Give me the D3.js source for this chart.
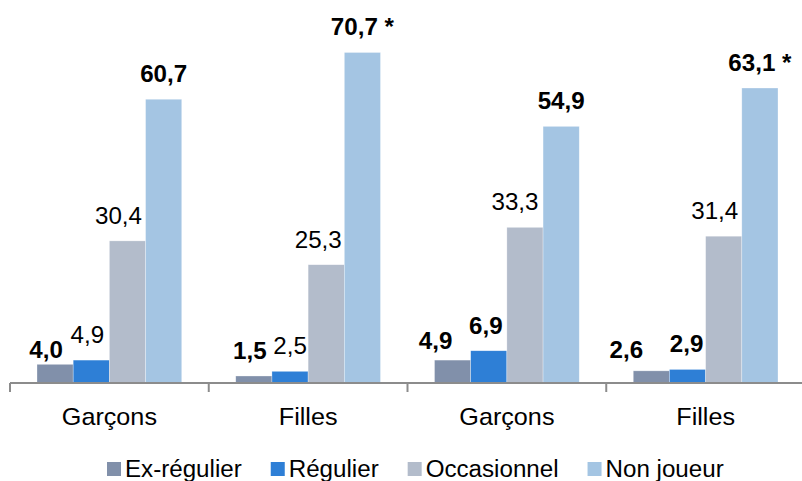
<!DOCTYPE html>
<html>
<head>
<meta charset="utf-8">
<script src="https://cdn.jsdelivr.net/npm/d3@7"></script>
<style>
  html, body { margin: 0; padding: 0; background: #fff; }
  svg { display: block; }
  text { font-family: "Liberation Sans", Arial, sans-serif; fill: #000; }
</style>
</head>
<body>
<svg id="chart" width="802" height="481"></svg>
<script>
// ---- data ----
const categories = ["Garçons", "Filles", "Garçons", "Filles"];
const seriesNames = ["Ex-régulier", "Régulier", "Occasionnel", "Non joueur"];
const exRegulier  = [4.0, 1.5, 4.9, 2.6];
const regulier    = [4.9, 2.5, 6.9, 2.9];
const occasionnel = [30.4, 25.3, 33.3, 31.4];
const nonJoueur   = [60.7, 70.7, 54.9, 63.1];
// significant (bold) flags per series
const boldExRegulier  = [true, true, true, true];
const boldRegulier    = [false, false, true, true];
const boldOccasionnel = [false, false, false, false];
const boldNonJoueur   = [true, true, true, true];
const starNonJoueur   = [false, true, false, true];

// ---- layout / style ----
const colors = ["#8190aa", "#2e7fd6", "#b3bccb", "#a4c5e3"];
const values = [exRegulier, regulier, occasionnel, nonJoueur];
const bolds = [boldExRegulier, boldRegulier, boldOccasionnel, boldNonJoueur];
const SX = 1.05; // horizontal stretch of text
const svg = d3.select("#chart");

const x0 = d3.scaleBand().domain(d3.range(categories.length)).range([10, 805]).padding(0);
const groupPad = 27;
const x1 = d3.scaleBand().domain(d3.range(seriesNames.length))
  .range([groupPad, x0.bandwidth() - groupPad]).padding(0);
const y = d3.scaleLinear().domain([0, 80]).range([383, 9]);

// label nudges [dx, dy] per series, per group (manual placement in original)
const nudges = [
  [[-9, 11], [-4, 0], [-17, 6], [-25, 4]],
  [[-4, 0], [0, 0], [-3, 0], [-1, 0]],
  [[-9, 0], [-8, 0], [-10, 0], [-9, 0]],
  [[0, 0], [0, 0], [0, 0], [0, 0]]
];

// bars
const groups = svg.append("g").selectAll("g")
  .data(categories).join("g")
  .attr("transform", (d, i) => `translate(${x0(i)},0)`);

groups.each(function(cat, gi) {
  const g = d3.select(this);
  seriesNames.forEach((s, si) => {
    const v = values[si][gi];
    g.append("rect")
      .attr("x", x1(si))
      .attr("y", y(v))
      .attr("width", x1.bandwidth())
      .attr("height", y(0) - y(v))
      .attr("fill", colors[si])
      .attr("stroke", "#ffffff")
      .attr("stroke-opacity", 0.5)
      .attr("stroke-width", 0.6);
  });
});

// axis
const axisG = svg.append("g");
axisG.append("line")
  .attr("x1", x0.range()[0]).attr("x2", 802)
  .attr("y1", y(0)).attr("y2", y(0))
  .attr("stroke", "#8c8c8c").attr("stroke-width", 2);
const tickPos = d3.range(categories.length).map(i => x0(i)).concat([x0.range()[1]]);
axisG.selectAll(".tick").data(tickPos).join("line")
  .attr("x1", d => d).attr("x2", d => d)
  .attr("y1", y(0)).attr("y2", y(0) + 9)
  .attr("stroke", "#8c8c8c").attr("stroke-width", 2);

// category labels
svg.append("g").selectAll("text").data(categories).join("text")
  .attr("transform", (d, i) => `translate(${x0(i) + x0.bandwidth() / 2},425) scale(${SX},1)`)
  .attr("text-anchor", "middle")
  .attr("font-size", 24)
  .text(d => d);

// value labels
const fmt = v => d3.format(".1f")(v).replace(".", ",");
const labels = svg.append("g");
categories.forEach((cat, gi) => {
  seriesNames.forEach((s, si) => {
    const v = values[si][gi];
    const [dx, dy] = nudges[si][gi];
    const cx = x0(gi) + x1(si) + x1.bandwidth() / 2 + dx;
    const by = y(v) - 17 + dy;
    const star = si === 3 && starNonJoueur[gi];
    labels.append("text")
      .attr("transform", `translate(${cx},${by}) scale(${SX},1)`)
      .attr("text-anchor", "middle")
      .attr("font-size", 23)
      .attr("font-weight", bolds[si][gi] ? "bold" : "normal")
      .text(fmt(v) + (star ? " *" : ""));
  });
});

// legend
const leg = svg.append("g");
let lx = 107;
seriesNames.forEach((s, si) => {
  leg.append("rect")
    .attr("x", lx).attr("y", 462)
    .attr("width", 14).attr("height", 14)
    .attr("fill", colors[si]);
  const t = leg.append("text")
    .attr("transform", `translate(${lx + 18},477) scale(${SX},1)`)
    .attr("font-size", 23)
    .text(s);
  const w = t.node().getComputedTextLength() * SX;
  lx += 18 + w + 29;
});
</script>
</body>
</html>
